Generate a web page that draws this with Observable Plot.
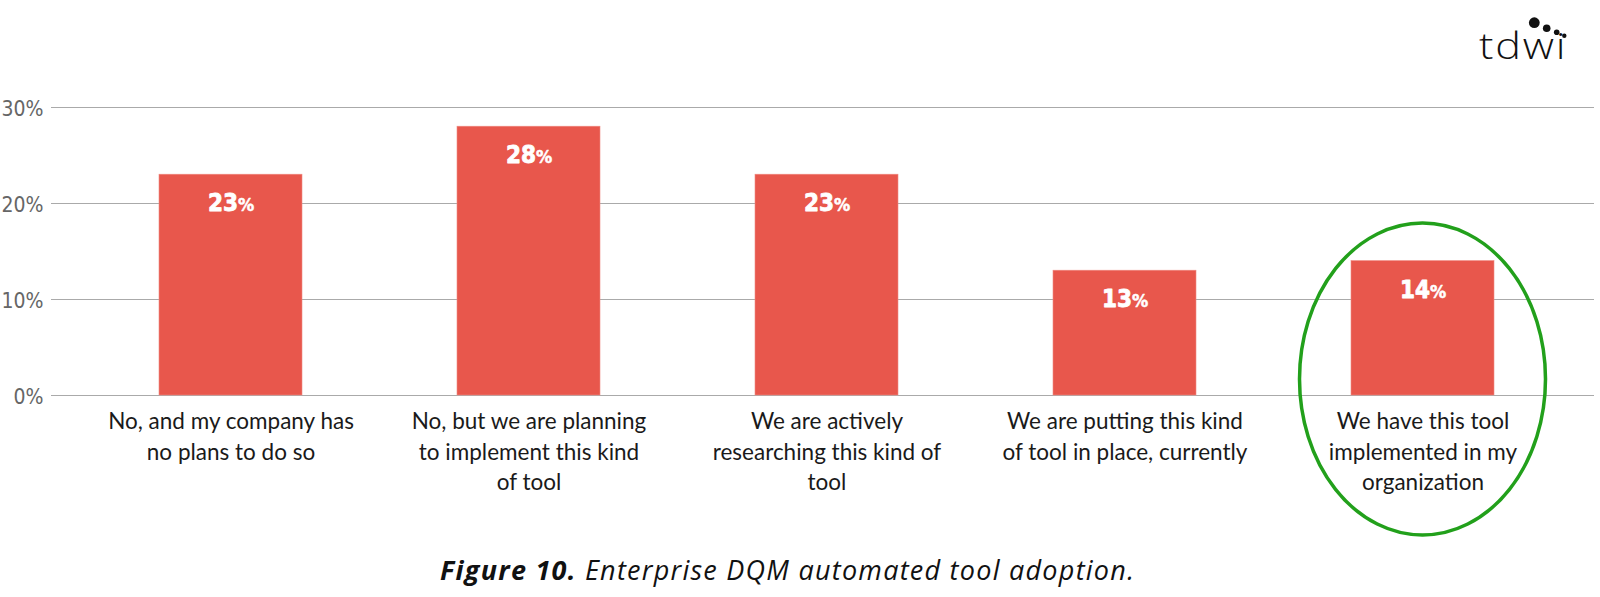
<!DOCTYPE html>
<html>
<head>
<meta charset="utf-8">
<script src="https://cdn.jsdelivr.net/npm/d3@7"></script>
<script src="https://cdn.jsdelivr.net/npm/@observablehq/plot@0.6"></script>
<style>
  html, body { margin: 0; padding: 0; background: #fff; }
  #wrap { position: relative; width: 1600px; height: 597px; overflow: hidden; }
  #chart { position: absolute; left: 0; top: 0; }
  #logo { position: absolute; left: 1479px; top: 28px; font-family: "Open Sans", Lato, sans-serif; font-weight: 300; font-size: 36px; color: #111; letter-spacing: 1.5px; line-height: 1; transform: scaleX(1.2); transform-origin: left top; }
  #dots { position: absolute; left: 0; top: 0; }
  #caption { position: absolute; left: 440px; top: 551px; white-space: nowrap; font-family: "Open Sans", Lato, sans-serif; font-style: italic; font-size: 27px; letter-spacing: 1.25px; color: #111; }
  #caption b { font-weight: 700; }
</style>
</head>
<body>
<div id="wrap">
  <div id="chart"></div>
  <div id="logo">tdwi</div>
  <svg id="dots" width="1600" height="60"></svg>
  <div id="caption"><b>Figure 10.</b> Enterprise DQM automated tool adoption.</div>
</div>
<script>
const categories = [
  "No, and my company has\nno plans to do so",
  "No, but we are planning\nto implement this kind\nof tool",
  "We are actively\nresearching this kind of\ntool",
  "We are putting this kind\nof tool in place, currently",
  "We have this tool\nimplemented in my\norganization"
];
const values = [23, 28, 23, 13, 14];
const yTicks = [0, 10, 20, 30];
const yTickLabels = ["0%", "10%", "20%", "30%"];
const highlighted = categories[4];

const data = categories.map((c, i) => ({ category: c, value: values[i] }));

const chart = Plot.plot({
  width: 1600,
  height: 560,
  marginLeft: 51,
  marginRight: 6,
  marginTop: 107,
  marginBottom: 165,
  style: { background: "transparent", overflow: "visible" },
  x: { domain: categories, range: [81.5, 1571.5], paddingInner: 0.52, paddingOuter: 0.26, label: null },
  y: { domain: [0, 30], label: null },
  marks: [
    Plot.ruleY(yTicks, { stroke: "#aaaaaa", strokeWidth: 1.2 }),
    Plot.barY(data, { x: "category", y: "value", fill: "#e8574c", stroke: "#ef8a82", strokeWidth: 0.6 }),
    Plot.text(data, { x: "category", y: "value", text: d => String(d.value), dy: 29, dx: 7, textAnchor: "end",
      fill: "#fff", fontFamily: "'DejaVu Sans Condensed', Roboto, sans-serif", fontWeight: 900, fontSize: 24,
      stroke: "#fff", strokeWidth: 0.8 }),
    Plot.text(data, { x: "category", y: "value", text: () => "%", dy: 31, dx: 7, textAnchor: "start",
      fill: "#fff", fontFamily: "'DejaVu Sans Condensed', Roboto, sans-serif", fontWeight: 900, fontSize: 18,
      stroke: "#fff", strokeWidth: 0.5 }),
    Plot.axisY({ ticks: yTicks, tickFormat: (d) => yTickLabels[yTicks.indexOf(d)], tickSize: 0, tickPadding: 8,
      fontSize: 21, fill: "#666", fontFamily: "'Liberation Sans Narrow', 'DejaVu Sans Condensed', sans-serif", dy: 2 }),
    Plot.axisX({ tickSize: 0, tickPadding: 12, fontSize: 22.5, fill: "#1a1a1a", lineHeight: 1.36,
      fontFamily: "Lato, 'Open Sans', sans-serif" })
  ]
});
document.getElementById("chart").appendChild(chart);

// annotation ellipse around the highlighted bar, positioned via the chart's scales
const sx = chart.scale("x");
const sy = chart.scale("y");
const cx = sx.apply(highlighted) + sx.bandwidth / 2;
const cy = sy.apply(0) - 16;
d3.select(chart).append("ellipse")
  .attr("cx", cx).attr("cy", cy).attr("rx", 123).attr("ry", 156)
  .attr("fill", "none").attr("stroke", "#22a01b").attr("stroke-width", 3.5);

// tdwi logo dots
const dots = [[1534.3, 22.7, 5.4], [1546.7, 28.3, 3.8], [1556.7, 32.3, 2.8], [1564.3, 35.7, 2.2]];
d3.select("#dots").selectAll("circle").data(dots).join("circle")
  .attr("cx", d => d[0]).attr("cy", d => d[1]).attr("r", d => d[2]).attr("fill", "#111");
</script>
</body>
</html>
